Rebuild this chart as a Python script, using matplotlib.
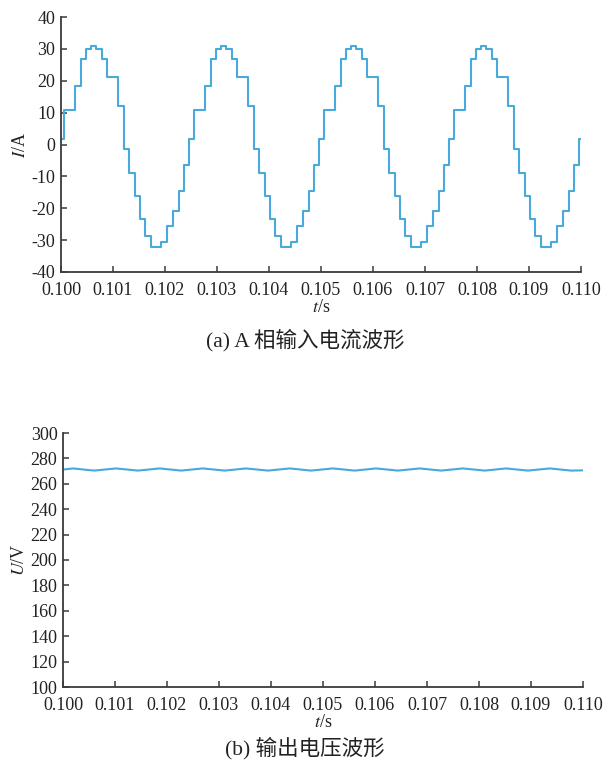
import numpy as np
import matplotlib
matplotlib.use('Agg')
import matplotlib.pyplot as plt

plt.rcParams['font.family'] = ['Liberation Serif', 'Noto Sans CJK SC']
plt.rcParams['mathtext.fontset'] = 'stix'
plt.rcParams['axes.unicode_minus'] = False

# ---- data ----
# phase-A input current: one period of the staircase (step instants and levels)
period = 0.0025
cycle_start = 0.10005
step_offsets = [0.0, 0.000224, 0.000326, 0.000435, 0.000531, 0.000627, 0.000735,
                0.000839, 0.001043, 0.001153, 0.001249, 0.001364, 0.001474, 0.001570,
                0.001686, 0.001878, 0.001986, 0.002102, 0.002211, 0.002308, 0.002410]
step_levels = [10.7, 18.2, 26.7, 30.0, 30.9, 30.0, 26.7,
               21.3, 12.1, -1.3, -9.0, -16.1, -23.3, -28.8,
               -32.2, -30.7, -25.7, -20.8, -14.5, -6.4, 1.7]
n_cycles = 4
i_start = 1.7

# output DC voltage: ripple extrema
u_t = [0.10000, 0.10019, 0.10060, 0.10102, 0.10144, 0.10186, 0.10227, 0.10269,
       0.10311, 0.10352, 0.10394, 0.10436, 0.10477, 0.10519, 0.10561, 0.10602,
       0.10644, 0.10686, 0.10727, 0.10769, 0.10811, 0.10852, 0.10894, 0.10936,
       0.10977, 0.11000]
u_v = [271.2, 272.1, 270.4, 272.1, 270.4, 272.1, 270.4, 272.1,
       270.4, 272.1, 270.4, 272.1, 270.4, 272.1, 270.4, 272.1,
       270.4, 272.1, 270.4, 272.1, 270.4, 272.1, 270.4, 272.1,
       270.4, 270.6]

xticks = [0.100, 0.101, 0.102, 0.103, 0.104, 0.105, 0.106, 0.107, 0.108, 0.109, 0.110]
i_ticks = [-40, -30, -20, -10, 0, 10, 20, 30, 40]
u_ticks = [100, 120, 140, 160, 180, 200, 220, 240, 260, 280, 300]

# build step series over the window
t_i = [0.100]
v_i = [i_start]
for k in range(n_cycles):
    for off, lev in zip(step_offsets, step_levels):
        t = cycle_start + k * period + off
        if t < 0.110:
            t_i.append(t)
            v_i.append(lev)
t_i.append(0.110)
v_i.append(v_i[-1])

line_c = '#48a9dd'
spine_c = '#3a3a3a'
text_c = '#222222'

fig = plt.figure(figsize=(6.1, 7.67), dpi=100)
ax1 = fig.add_axes([61 / 610, 1 - 272 / 767, 520 / 610, 255 / 767])
ax2 = fig.add_axes([63 / 610, 1 - 687 / 767, 520 / 610, 254 / 767])


def style(ax):
    for s in ['top', 'right']:
        ax.spines[s].set_visible(False)
    for s in ['left', 'bottom']:
        ax.spines[s].set_color(spine_c)
        ax.spines[s].set_linewidth(1.3)
    ax.tick_params(direction='in', length=4, width=1.1, color=spine_c,
                   labelsize=13, labelcolor=text_c)
    ax.tick_params(axis='x', pad=7)
    ax.tick_params(axis='y', pad=4)
    ax.set_xlim(0.100, 0.110)
    ax.set_xticks(xticks)
    ax.set_xticklabels(['%.3f' % x for x in xticks])
    ax.set_xlabel(r'$t$/s', fontsize=13, color=text_c, labelpad=0)


ax1.step(t_i, v_i, where='post', color=line_c, lw=1.5)
style(ax1)
ax1.set_ylim(-40, 40)
ax1.set_yticks(i_ticks)
ax1.set_ylabel(r'$I$/A', fontsize=13, color=text_c, labelpad=2)

ax2.plot(u_t, u_v, color=line_c, lw=1.5)
style(ax2)
ax2.set_ylim(100, 300)
ax2.set_yticks(u_ticks)
ax2.set_ylabel(r'$U$/V', fontsize=13, color=text_c, labelpad=2)

fig.text(0.5, 1 - 340 / 767, '(a) A 相输入电流波形', ha='center', va='center',
         fontsize=15.5, color=text_c)
fig.text(0.5, 1 - 748 / 767, '(b) 输出电压波形', ha='center', va='center',
         fontsize=15.5, color=text_c)

fig.savefig('out.png', dpi=100)
